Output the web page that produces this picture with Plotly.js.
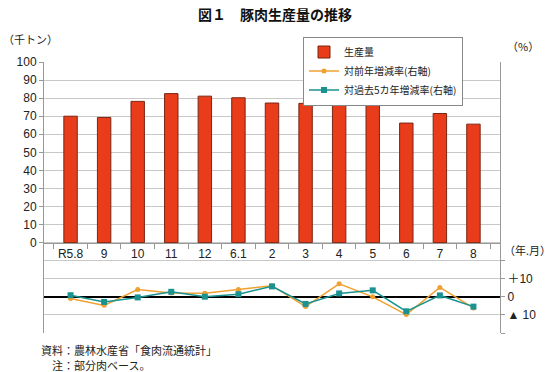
<!DOCTYPE html>
<html>
<head>
<meta charset="utf-8">
<script src="https://cdn.plot.ly/plotly-3.0.1.min.js"></script>
<style>html,body{margin:0;padding:0;background:#fff;}#chart{width:550px;height:372px;}</style>
</head>
<body>
<div id="chart"></div>
<script>
const categories = ["R5.8","9","10","11","12","6.1","2","3","4","5","6","7","8"];
const production = [70.0, 69.3, 78.2, 82.5, 81.1, 80.2, 77.3, 77.1, 78.6, 75.9, 66.2, 71.5, 65.6];
const yoyChange = [-0.9, -4.7, 4.1, 2.1, 2.0, 4.1, 6.2, -5.4, 7.2, 0.0, -9.8, 5.2, -6.1];
const fiveYearChange = [0.9, -2.8, -0.3, 2.8, 0.1, 1.5, 5.8, -3.9, 1.9, 3.6, -8.0, 0.8, -5.4];
const leftTicks = [0,10,20,30,40,50,60,70,80,90,100];
const rightTickVals = [-20,-10,0,10,20];
const rightTickText = ["","▲ 10","0","＋10",""];

const FONT = "Liberation Sans, Arial, Noto Sans CJK JP, sans-serif";
const JFONT = "Noto Sans CJK JP, sans-serif";

const traces = [
  {type:"bar", name:"生産量", x:categories, y:production, yaxis:"y",
   marker:{color:"#E83C1A", line:{color:"#7A2614", width:1}}, width:0.4},
  {type:"scatter", mode:"lines+markers", name:"対前年増減率(右軸)", x:categories, y:yoyChange, yaxis:"y2",
   line:{color:"#F0A030", width:1.5}, marker:{symbol:"circle", size:5, color:"#F0A030"}},
  {type:"scatter", mode:"lines+markers", name:"対過去5カ年増減率(右軸)", x:categories, y:fiveYearChange, yaxis:"y2",
   line:{color:"#1A9290", width:1.5}, marker:{symbol:"square", size:6, color:"#1A9290"}}
];

const layout = {
  width:550, height:372,
  margin:{l:44, r:50, t:62, b:39},
  paper_bgcolor:"#fff", plot_bgcolor:"#fff",
  font:{family:FONT, size:12, color:"#222"},
  showlegend:true,
  legend:{x:0.568, y:1.094, xanchor:"left", yanchor:"top", bgcolor:"#fff",
          bordercolor:"#888", borderwidth:1, font:{family:JFONT, size:10}, tracegroupgap:0,
          itemwidth:30},
  title:{text:"<b>図１　豚肉生産量の推移</b>", x:0.5, xanchor:"center", y:0.96, yanchor:"middle",
         font:{family:JFONT, size:14, color:"#111"}},
  xaxis:{type:"category", anchor:"free", position:1/3, tickson:"boundaries", tickangle:0,
         ticks:"outside", ticklen:5, tickcolor:"#999", showline:true, linecolor:"#999",
         showgrid:false, tickfont:{size:12}},
  yaxis:{range:[-50,100], tickvals:leftTicks, showgrid:true, gridcolor:"#c8c8c8",
         zeroline:false, showline:true, linecolor:"#999", ticks:"outside", ticklen:4,
         tickcolor:"#999", tickfont:{size:12}},
  yaxis2:{overlaying:"y", side:"right", range:[-20,130], tickvals:rightTickVals, ticktext:rightTickText,
          showgrid:true, gridcolor:"#c8c8c8", zeroline:true, zerolinecolor:"#000", zerolinewidth:1.5,
          showline:true, linecolor:"#999", ticks:"outside", ticklen:4, tickcolor:"#999",
          tickfont:{size:12}},
  annotations:[
    {text:"（千トン）", xref:"paper", yref:"paper", x:-0.095, y:1.085, xanchor:"left", yanchor:"middle",
     showarrow:false, font:{family:JFONT, size:11}},
    {text:"（%）", xref:"paper", yref:"paper", x:1.01, y:1.06, xanchor:"left", yanchor:"middle",
     showarrow:false, font:{family:JFONT, size:11}},
    {text:"（年.月）", xref:"paper", yref:"paper", x:1.005, y:0.305, xanchor:"left", yanchor:"middle",
     showarrow:false, font:{family:JFONT, size:11}},
    {text:"資料：農林水産省「食肉流通統計」", xref:"paper", yref:"paper", x:-0.01, y:-0.063,
     xanchor:"left", yanchor:"middle", showarrow:false, font:{family:JFONT, size:11}},
    {text:"注：部分肉ベース。", xref:"paper", yref:"paper", x:0.013, y:-0.118,
     xanchor:"left", yanchor:"middle", showarrow:false, font:{family:JFONT, size:11}}
  ]
};

Plotly.newPlot("chart", traces, layout, {displayModeBar:false, staticPlot:true});
</script>
</body>
</html>
